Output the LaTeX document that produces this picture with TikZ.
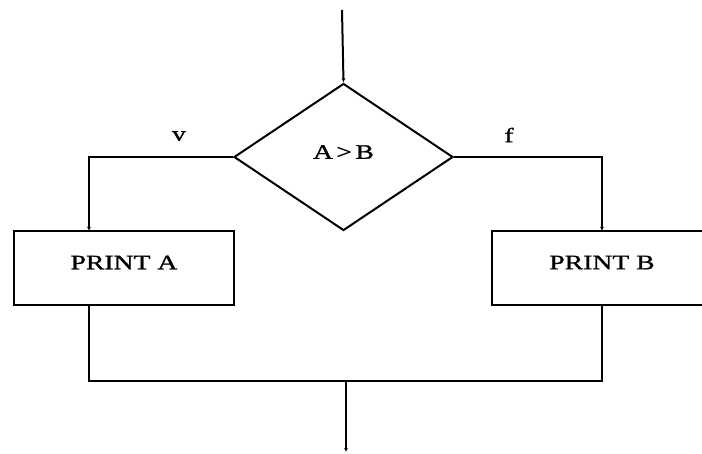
\documentclass[tikz,border=0pt]{standalone}
\usepackage{fontspec}
\setmainfont{Liberation Serif}[FakeStretch=1.35,FakeBold=1.2]
\usetikzlibrary{shapes.geometric,arrows.meta}
\begin{document}
\begin{tikzpicture}[x=1pt,y=-1pt,
  line width=2pt,
  every node/.style={font=\fontsize{20.5}{24}\selectfont},
  arr/.style={-{Latex[length=4pt,width=4pt]}},
  decision/.style={draw,diamond,inner sep=0pt,minimum width=219pt,minimum height=147pt},
  printbox/.style={draw,rectangle,inner sep=0pt,minimum width=220pt,minimum height=74pt},
  lbl/.style={inner sep=0pt}]
\useasboundingbox (0,0) rectangle (702,454);
\node[decision] (d) at (343.5,157) {\raisebox{10pt}{A\,>\,B}};
\node[printbox] (pa) at (124,268) {\raisebox{11pt}{PRINT A}};
\node[printbox] (pb) at (602,268) {\raisebox{11pt}{PRINT B}};
\coordinate (top) at (342,10);
\coordinate (ain) at (89,231);
\coordinate (bin) at (602,231);
\coordinate (aout) at (89,305);
\coordinate (bout) at (602,305);
\coordinate (al) at (89,381);
\coordinate (br) at (602,381);
\coordinate (join) at (346,381);
\coordinate (bot) at (346,452);
\draw[arr] (top) -- (d.north);
\draw[arr] (d.west) -| (ain);
\draw[arr] (d.east) -| (bin);
\draw (aout) -- (al) -- (br) -- (bout);
\draw[arr] (join) -- (bot);
\node[lbl] (v) at (179,136) {v};
\node[lbl] (f) at (509,135) {f};
\end{tikzpicture}
\end{document}
